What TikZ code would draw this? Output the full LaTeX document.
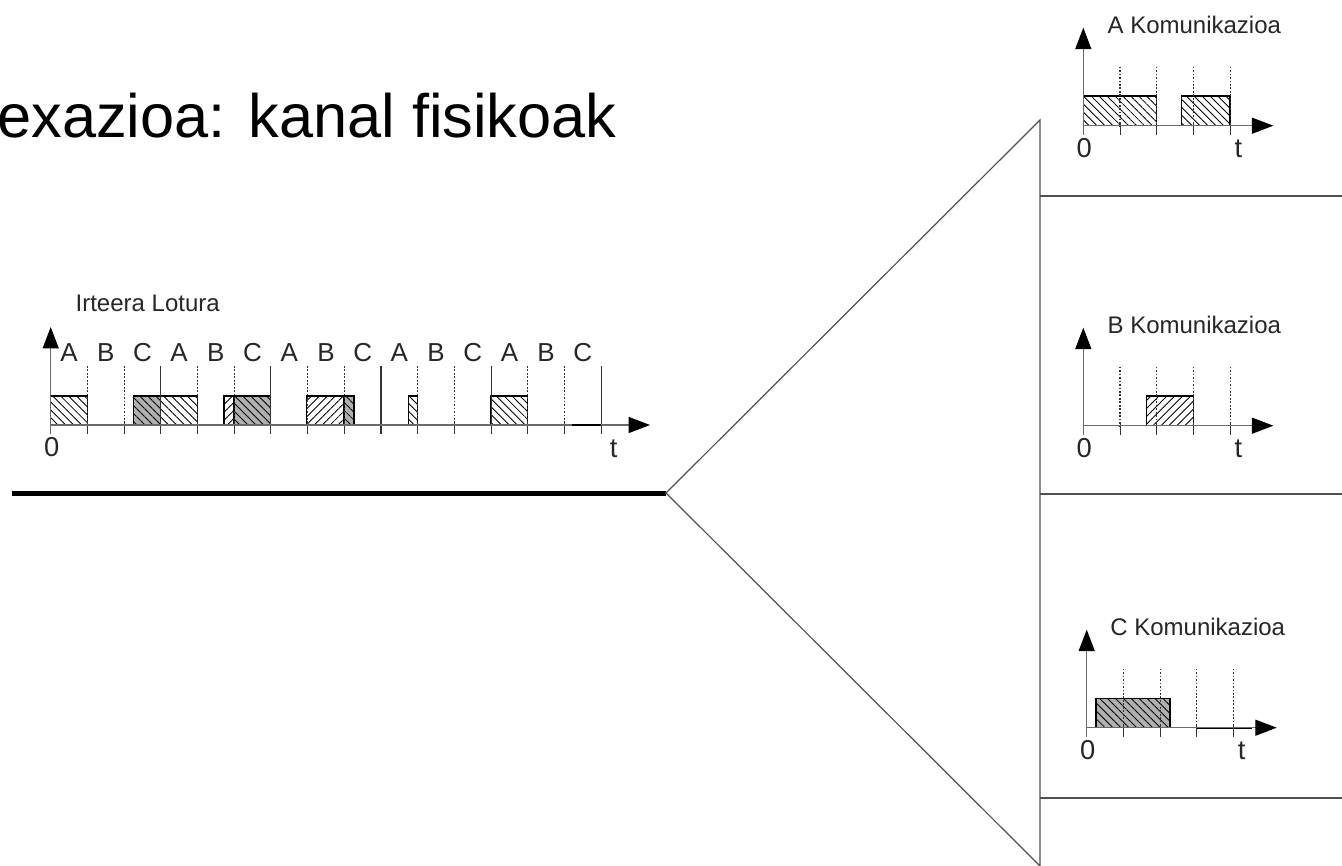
\documentclass[tikz,border=0pt]{standalone}
\usepackage{fontspec}
\setmainfont{Liberation Sans}
\usetikzlibrary{arrows.meta,patterns.meta}
\definecolor{boxgray}{HTML}{B0B0B0}
\definecolor{axisgray}{HTML}{6A6A6A}
\definecolor{fangray}{HTML}{505050}
\tikzset{
	lbl/.style={font=\fontsize{18}{20}\selectfont,text=black!85,inner sep=0pt},
	slotlbl/.style={lbl,font=\fontsize{19.5}{22}\selectfont},
	axlbl/.style={lbl,font=\fontsize{20.5}{22}\selectfont},
	axisline/.style={draw=axisgray,line width=0.8pt},
	axisarrow/.style={axisline,-{Triangle[length=16pt,width=12pt,color=black]}},
	slotdot/.style={dash pattern=on 1.3pt off 1.3pt,line width=0.9pt,black!80},
	slotsolid/.style={line width=0.8pt,black!80},
	tick/.style={line width=0.7pt,black!80},
	hatchA/.style={draw=black,line width=0.8pt,pattern={Lines[angle=-45,distance=4.2pt,line width=0.65pt]}},
	hatchB/.style={draw=black,line width=0.8pt,pattern={Lines[angle=45,distance=4.2pt,line width=0.65pt]}},
	hatchC/.style={draw=black,line width=0.8pt,fill=boxgray,postaction={pattern={Lines[angle=-45,distance=4.2pt,line width=0.65pt]}}},
	fanline/.style={draw=fangray,line width=0.9pt}
}
\begin{document}
\begin{tikzpicture}[x=0.75pt,y=-0.75pt,line cap=butt,>=stealth]
	\useasboundingbox (0,0) rectangle (1342,866);
	% title
	\node[anchor=base west,inner sep=0pt,font=\fontsize{46}{50}\selectfont] (title) at (-3,138) {exazioa: kanal fisikoak};
	% fan of the physical channel
	\coordinate (split) at (666,493);
	\coordinate (fantop) at (1040,120);
	\coordinate (fanbot) at (1040,866);
	\draw[line width=3.75pt] (12,493) -- (split);
	\draw[fanline] (split) -- (fantop) -- (fanbot) -- cycle;
	\foreach \y in {196,494,798}{\draw[fanline] (1040,\y) -- (1342,\y);}
	% output link
	\begin{scope}[shift={(50.7,425)}]
		\node[lbl] (outlbl) at (97,-122) {Irteera Lotura};
		\foreach \ch [count=\k from 0] in {A,B,C,A,B,C,A,B,C,A,B,C,A,B,C}
			{\node[slotlbl] (slot\k) at ({36.7*(\k+0.5)},-72) {\ch};}
		\draw[hatchA] (0,0) rectangle (36.7,-29);
		\draw[hatchC] (82.6,0) rectangle (110,-29);
		\draw[hatchA] (110,0) rectangle (146.7,-29);
		\draw[hatchB] (173.3,0) rectangle (183.3,-29);
		\draw[hatchC] (183.3,0) rectangle (220,-29);
		\draw[hatchB] (256,0) rectangle (293.3,-29);
		\draw[hatchC] (293.3,0) rectangle (303.3,-29);
		\draw[hatchA] (357.6,0) rectangle (366.7,-29);
		\draw[hatchA] (440,0) rectangle (476.7,-29);
		\foreach \k in {1,2,4,5,7,8,10,11,13,14}
			{\draw[slotdot] ({36.7*\k},-59) -- ({36.7*\k},0);
			 \draw[tick] ({36.7*\k},-3) -- ({36.7*\k},9);}
		\foreach \k in {3,6,9,12,15}
			{\draw[slotsolid] ({36.7*\k},-59) -- ({36.7*\k},9);}
		\draw[axisline] (0,0) -- (0,9);
		\draw[axisarrow] (0,0) -- (0,-98);
		\draw[axisarrow] (0,0) -- (599.3,0);
		\draw[line width=1.3pt] (521,0) -- (550,0);
		\node[axlbl] (outzero) at (1,22) {0};
		\node[axlbl] (outt) at (563,24) {t};
	\end{scope}
	% the three communications
	\foreach \px/\py/\nm in {1083.3/125.7/A,1083.3/425.7/B,1086.7/727.7/C}{
		\begin{scope}[shift={(\px,\py)}]
			\node[lbl] (lbl\nm) at (111,-101) {\nm\ Komunikazioa};
			\node[axlbl] (zero\nm) at (1,22) {0};
			\node[axlbl] (t\nm) at (155,23) {t};
		\end{scope}}
	\begin{scope}[shift={(1083.3,125.7)}]
		\draw[hatchA] (0,0) rectangle (73.4,-29.7);
		\draw[hatchA] (98.4,0) rectangle (146.7,-29.7);
	\end{scope}
	\begin{scope}[shift={(1083.3,425.7)}]
		\draw[hatchB] (63.4,0) rectangle (110,-29.7);
	\end{scope}
	\begin{scope}[shift={(1086.7,727.7)}]
		\draw[hatchC] (9.3,0) rectangle (83.3,-29.4);
		\draw[line width=1.3pt] (110,0) -- (165,0);
	\end{scope}
	\foreach \px/\py in {1083.3/125.7,1083.3/425.7,1086.7/727.7}{
		\begin{scope}[shift={(\px,\py)}]
			\foreach \k in {1,...,4}
				{\draw[slotdot] ({36.7*\k},-59) -- ({36.7*\k},0);
				 \draw[tick] ({36.7*\k},-3) -- ({36.7*\k},9);}
			\draw[axisline] (0,0) -- (0,9);
			\draw[axisarrow] (0,0) -- (0,-98);
			\draw[axisarrow] (0,0) -- (190,0);
		\end{scope}}
\end{tikzpicture}
\end{document}
